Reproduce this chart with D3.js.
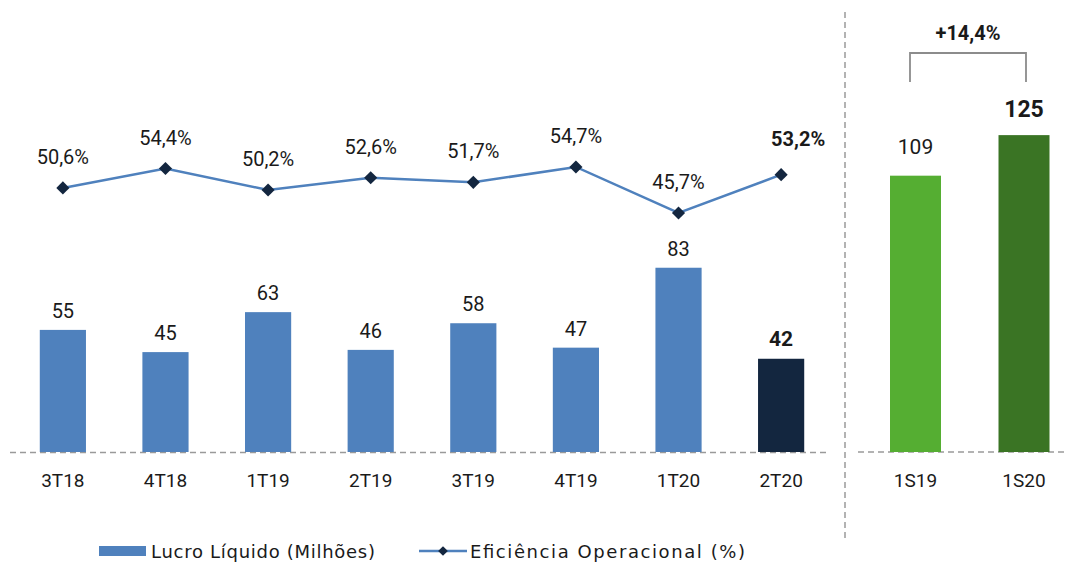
<!DOCTYPE html>
<html><head><meta charset="utf-8">
<script src="https://cdn.jsdelivr.net/npm/d3@7"></script>
<style>body{margin:0;background:#fff}svg{display:block}text{font-family:Roboto,"DejaVu Sans",sans-serif}text.leg{font-family:"DejaVu Sans",sans-serif}</style>
</head><body><svg id="c" width="1067" height="563"></svg>
<script>
const quarters = ["3T18","4T18","1T19","2T19","3T19","4T19","1T20","2T20"];
const lucro = [55,45,63,46,58,47,83,42];
const eficiencia = [50.6,54.4,50.2,52.6,51.7,54.7,45.7,53.2];
const eficLabels = ["50,6%","54,4%","50,2%","52,6%","51,7%","54,7%","45,7%","53,2%"];
const semesters = ["1S19","1S20"];
const semLucro = [109,125];
const growthLabel = "+14,4%";
const legendLabels = ["Lucro Líquido (Milhões)","Eficiência Operacional (%)"];

const svg = d3.select("#c");
const base = 452;
const ink = "#1a1a1a";
const x = d3.scaleBand().domain(quarters).range([9, 835]).paddingInner(0.55).paddingOuter(0.3);
const y = d3.scaleLinear().domain([0,100]).range([base, base-222]);
const y2 = d3.scaleLinear().domain([40,60]).range([446.5-40*5.11, 446.5-60*5.11]);
const xs = d3.scaleBand().domain(semesters).range([890, 1049.5]).paddingInner(0.53).paddingOuter(0);
const ys = d3.scaleLinear().domain([0,100]).range([base, base-253.5]);
const cx = d => x(d)+x.bandwidth()/2;
const cxs = d => xs(d)+xs.bandwidth()/2;
const last = quarters.length-1;

// baselines and divider
svg.append("line").attr("x1",10).attr("x2",830).attr("y1",base+0.5).attr("y2",base+0.5)
  .attr("stroke","#9a9a9a").attr("stroke-width",1.5).attr("stroke-dasharray","6,4");
svg.append("line").attr("x1",858).attr("x2",1067).attr("y1",base).attr("y2",base)
  .attr("stroke","#9a9a9a").attr("stroke-width",1.5).attr("stroke-dasharray","6,4");
svg.append("line").attr("x1",845).attr("x2",845).attr("y1",12).attr("y2",540)
  .attr("stroke","#9a9a9a").attr("stroke-width",1.5).attr("stroke-dasharray","6,4");

// bars
svg.selectAll(".bar").data(quarters).join("rect")
  .attr("x",d=>x(d)).attr("width",x.bandwidth())
  .attr("y",(d,i)=>y(lucro[i])).attr("height",(d,i)=>base-y(lucro[i]))
  .attr("fill",(d,i)=>i===last?"#13263F":"#4F81BD");
svg.selectAll(".blab").data(quarters).join("text")
  .attr("x",cx).attr("y",(d,i)=>y(lucro[i])-(i===last?13:12))
  .attr("text-anchor","middle")
  .attr("font-size",(d,i)=>i===last?21:20)
  .attr("font-weight",(d,i)=>i===last?"bold":"normal")
  .attr("fill",ink).text((d,i)=>lucro[i]);

// category labels
svg.selectAll(".cat").data(quarters).join("text")
  .attr("x",cx).attr("y",487).attr("text-anchor","middle")
  .attr("font-size",19).attr("fill",ink).text(d=>d);

// line
const line = d3.line().x((d,i)=>cx(quarters[i])).y(d=>y2(d));
svg.append("path").datum(eficiencia).attr("d",line).attr("fill","none")
  .attr("stroke","#4F81BD").attr("stroke-width",2.5);
const diamond = d3.symbol().type(d3.symbolDiamond2).size(110);
svg.selectAll(".mk").data(eficiencia).join("path")
  .attr("d",diamond)
  .attr("transform",(d,i)=>`translate(${cx(quarters[i])},${y2(d)})`)
  .attr("fill","#13263F");
svg.selectAll(".llab").data(eficiencia).join("text")
  .attr("x",(d,i)=>cx(quarters[i])+(i===last?17:0))
  .attr("y",(d,i)=>y2(d)-(i===last?29:24))
  .attr("text-anchor","middle")
  .attr("font-size",20)
  .attr("font-weight",(d,i)=>i===last?"bold":"normal")
  .attr("fill",ink).text((d,i)=>eficLabels[i]);

// semester bars
const semColors = ["#55AE32","#3A7424"];
svg.selectAll(".sbar").data(semesters).join("rect")
  .attr("x",d=>xs(d)).attr("width",xs.bandwidth())
  .attr("y",(d,i)=>ys(semLucro[i])).attr("height",(d,i)=>base-ys(semLucro[i]))
  .attr("fill",(d,i)=>semColors[i]);
svg.selectAll(".slab").data(semesters).join("text")
  .attr("x",cxs).attr("y",(d,i)=>ys(semLucro[i])-(i===1?18:22))
  .attr("text-anchor","middle")
  .attr("font-size",(d,i)=>i===1?23:21)
  .attr("font-weight",(d,i)=>i===1?"bold":"normal")
  .attr("fill",ink).text((d,i)=>semLucro[i]);
svg.selectAll(".scat").data(semesters).join("text")
  .attr("x",cxs).attr("y",487).attr("text-anchor","middle")
  .attr("font-size",19).attr("fill",ink).text(d=>d);

// bracket
const bx1 = 910, bx2 = 1026;
svg.append("path").attr("d",`M${bx1},82V53H${bx2}V82`).attr("fill","none")
  .attr("stroke","#8c8c8c").attr("stroke-width",1.8);
svg.append("text").attr("x",(bx1+bx2)/2).attr("y",40).attr("text-anchor","middle")
  .attr("font-size",20).attr("font-weight","bold").attr("fill",ink).text(growthLabel);

// legend
svg.append("rect").attr("x",99).attr("y",546).attr("width",47).attr("height",10).attr("fill","#4F81BD");
svg.append("text").attr("class","leg").attr("x",151).attr("y",558).attr("font-size",18).attr("fill",ink)
  .attr("textLength",224).attr("lengthAdjust","spacing").text(legendLabels[0]);
svg.append("line").attr("x1",419).attr("x2",467).attr("y1",551).attr("y2",551).attr("stroke","#4F81BD").attr("stroke-width",2.5);
svg.append("path").attr("d",d3.symbol().type(d3.symbolDiamond2).size(60)).attr("transform","translate(443,551)").attr("fill","#13263F");
svg.append("text").attr("class","leg").attr("x",470).attr("y",558).attr("font-size",18).attr("fill",ink)
  .attr("textLength",275).attr("lengthAdjust","spacing").text(legendLabels[1]);
</script></body></html>
